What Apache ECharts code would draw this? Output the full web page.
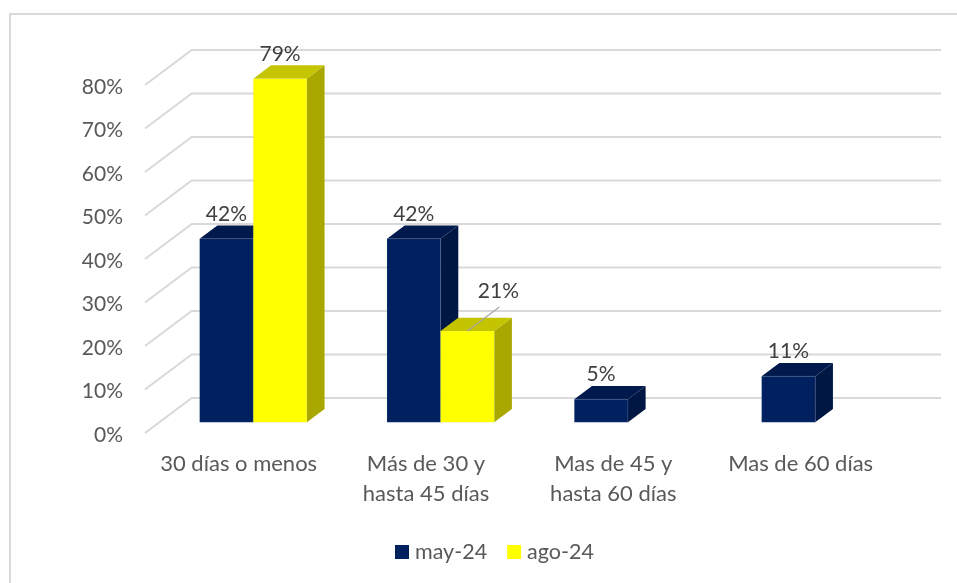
<!DOCTYPE html>
<html>
<head>
    <meta charset="utf-8">
    <title>ECharts</title>
    <script src="https://cdn.jsdelivr.net/npm/echarts@6/dist/echarts.min.js"></script>
    <style>
        html, body { margin: 0; padding: 0; background: #fff; }
    </style>
</head>
<body>
<div id="main" style="width: 957px;height:583px;"></div>
<script type="text/javascript">
    var categories = ['30 días o menos', 'Más de 30 y\nhasta 45 días', 'Mas de 45 y\nhasta 60 días', 'Mas de 60 días'];
    var may24 = [0.422, 0.422, 0.053, 0.106];
    var ago24 = [0.79, 0.21, null, null];
    var ticks = [0, 0.1, 0.2, 0.3, 0.4, 0.5, 0.6, 0.7, 0.8];

    var FONT = 'Lato';
    var BAR_W = 53.6;
    // fake 3d: floor depth of the walls, front of the bars, depth of the bars
    var WALL_DX = 46.7, WALL_DY = 35;
    var FRONT_DX = 14.6, FRONT_DY = 10.7;
    var DEPTH_DX = 17.7, DEPTH_DY = 13.3;

    function pct(v) {
        return Math.round(v * 100) + '%';
    }

    function wallItem(params, api) {
        var y = api.coord([0, api.value(0)])[1];
        var sys = params.coordSys;
        var x0 = sys.x, bx = sys.x + WALL_DX, by = y - WALL_DY;
        return {
            type: 'polyline',
            shape: {points: [[x0, y], [bx, by], [bx + sys.width, by]]},
            style: {stroke: '#d9d9d9', lineWidth: 2, fill: null}
        };
    }

    function barRenderer(side, front, top, right) {
        return function (params, api) {
            var v = api.value(1);
            if (v == null || isNaN(v)) return null;
            var p = api.coord([api.value(0), v]);
            var base = api.coord([api.value(0), 0]);
            var x0 = base[0] + FRONT_DX + (side < 0 ? -BAR_W : 0);
            var x1 = x0 + BAR_W;
            var y0 = base[1] - FRONT_DY;
            var yt = p[1] - FRONT_DY;

            var lx = (x0 + x1) / 2, ly = yt - DEPTH_DY - 11.5;
            var children = [
                {type: 'polygon', shape: {points: [[x1, y0], [x1 + DEPTH_DX, y0 - DEPTH_DY], [x1 + DEPTH_DX, yt - DEPTH_DY], [x1, yt]]},
                    style: {fill: right}},
                {type: 'polygon', shape: {points: [[x0, yt], [x0 + DEPTH_DX, yt - DEPTH_DY], [x1 + DEPTH_DX, yt - DEPTH_DY], [x1, yt]]},
                    style: {fill: top}},
                {type: 'rect', shape: {x: x0, y: yt, width: BAR_W, height: y0 - yt},
                    style: {fill: front, stroke: 'rgba(190,200,220,0.2)', lineWidth: 0.6}}
            ];
            // the 21% label was dragged off its bar, it has a leader line
            if (side > 0 && params.dataIndex === 1) {
                children.push({type: 'line', shape: {x1: lx, y1: yt, x2: lx + 32, y2: yt - 24},
                    style: {stroke: '#a6a6a6', lineWidth: 1.3}});
                lx += 31;
                ly -= 15;
            }
            children.push({type: 'text', x: lx, y: ly,
                style: {text: pct(v), fill: '#404040', font: '21px ' + FONT, align: 'center', verticalAlign: 'middle'}});
            return {type: 'group', children: children};
        };
    }

    var myChart = echarts.init(document.getElementById('main'), null, {renderer: 'canvas'});
    myChart.setOption({
        animation: false,
        backgroundColor: '#fff',
        textStyle: {fontFamily: FONT},
        graphic: [{
            type: 'polyline',
            silent: true,
            shape: {points: [[10, 583], [10, 14], [957, 14]]},
            style: {stroke: '#d9d9d9', lineWidth: 2, fill: null}
        }],
        grid: {left: 145, top: 85, width: 749.3, height: 348},
        legend: {
            data: ['may-24', 'ago-24'],
            left: 395,
            top: 541,
            padding: 0,
            icon: 'rect',
            itemWidth: 14,
            itemHeight: 14,
            itemGap: 20,
            textStyle: {color: '#595959', fontSize: 21.5, fontFamily: FONT, padding: [0, 0, 0, 1]}
        },
        xAxis: {
            type: 'category',
            data: categories,
            axisLine: {show: false},
            axisTick: {show: false},
            splitLine: {show: false},
            axisLabel: {color: '#595959', fontSize: 22, lineHeight: 30, margin: 16, interval: 0, fontFamily: FONT}
        },
        yAxis: {
            type: 'value',
            min: 0,
            max: 0.8,
            interval: 0.1,
            axisLine: {show: false},
            axisTick: {show: false},
            splitLine: {show: false},
            // label centres sit a little under the tick in the original
            axisLabel: {color: '#595959', fontSize: 21, margin: 22, verticalAlign: 'top', lineHeight: 4, fontFamily: FONT, formatter: pct}
        },
        series: [
            {
                type: 'custom',
                name: 'walls',
                silent: true,
                z: 1,
                data: ticks.map(function (t) { return [t]; }),
                encode: {y: 0},
                renderItem: wallItem
            },
            {
                type: 'custom',
                name: 'may-24',
                z: 2,
                itemStyle: {color: '#002060'},
                data: may24.map(function (v, i) { return [i, v]; }),
                encode: {x: 0, y: 1},
                renderItem: barRenderer(-1, '#002060', '#001a4e', '#001744')
            },
            {
                type: 'custom',
                name: 'ago-24',
                z: 3,
                itemStyle: {color: '#ffff00'},
                data: ago24.map(function (v, i) { return [i, v]; }),
                encode: {x: 0, y: 1},
                renderItem: barRenderer(1, '#ffff00', '#c4c400', '#a8a800')
            }
        ]
    });
</script>
</body>
</html>
